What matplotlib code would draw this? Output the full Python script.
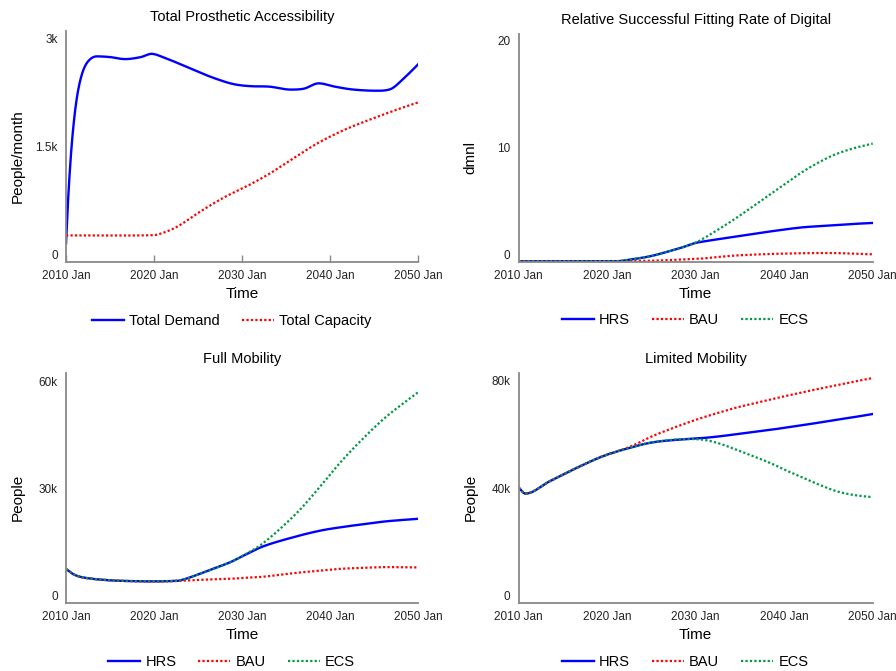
"""Scenario comparison of prosthetic service model outputs, 2010-2050."""

import matplotlib
matplotlib.use("Agg")
import matplotlib.pyplot as plt
import numpy as np

plt.rcParams["font.family"] = ["Liberation Sans", "DejaVu Sans"]

BLUE = "#0000ff"
RED = "#ff0000"
GREEN = "#009944"
DOT = (0, (1, 1))

# Total prosthetic accessibility (people/month)
demand_years = [2010, 2010.3, 2010.7, 2011.2, 2011.8, 2012.5, 2013.5, 2015, 2016.7, 2018.5,
                2019.7, 2021, 2023, 2025, 2027, 2029, 2031, 2033, 2035.5, 2037,
                2038.7, 2040.5, 2042.5, 2045.3, 2046.8, 2048.5, 2050]
total_demand = [150, 900, 1600, 2150, 2500, 2680, 2750, 2740, 2712, 2740,
                2785, 2740, 2640, 2535, 2440, 2365, 2335, 2330, 2288, 2300,
                2375, 2330, 2290, 2272, 2292, 2460, 2640]
capacity_years = [2010, 2015, 2019.5, 2020.5, 2022.6, 2025.2, 2027.9, 2030.9, 2033.2,
                  2035.5, 2038.5, 2041.5, 2044.5, 2047.6, 2050]
total_capacity = [260, 258, 262, 275, 380, 588, 785, 968, 1125, 1306, 1537, 1722,
                  1870, 2010, 2110]

# Relative successful fitting rate of digital (dmnl)
fit_years = [2010, 2015, 2020, 2021, 2022.5, 2024.8, 2026.7, 2028.6, 2029.7, 2030.5,
             2034.2, 2038, 2041.8, 2043.7, 2045.6, 2047.8, 2050]
fit_hrs = [-0.65, -0.65, -0.65, -0.65, -0.5, -0.19, 0.22, 0.68, 1.0, 1.15,
           1.62, 2.09, 2.5, 2.62, 2.73, 2.84, 2.93]
fit_bau = [-0.65, -0.65, -0.65, -0.65, -0.63, -0.6, -0.55, -0.48, -0.44, -0.41,
           -0.13, 0.02, 0.1, 0.12, 0.12, 0.06, 0.0]
fit_ecs = [-0.65, -0.65, -0.65, -0.65, -0.5, -0.19, 0.22, 0.68, 1.0, 1.3,
           3.19, 5.37, 7.56, 8.5, 9.28, 9.9, 10.35]

# Full mobility (people)
full_years = [2010, 2011, 2012.3, 2015, 2018, 2020, 2022, 2023, 2025.4, 2028.6, 2030,
              2032.4, 2036.2, 2038.9, 2041.1, 2043.8, 2046.4, 2050]
full_hrs = [7460, 5800, 4950, 4300, 4050, 4000, 4100, 4300, 6300, 9300, 11000,
            13800, 16600, 18200, 19100, 20000, 20800, 21500]
full_bau = [7460, 5800, 4950, 4300, 4050, 4000, 4050, 4150, 4450, 4700, 4950,
            5300, 6400, 7000, 7500, 7800, 8000, 7900]
full_ecs = [7460, 5800, 4950, 4300, 4050, 4000, 4100, 4300, 6300, 9300, 11100,
            14700, 23100, 30600, 37100, 44100, 50100, 56900]

# Limited mobility (people)
lim_years = [2010, 2010.75, 2013.5, 2016.5, 2019.5, 2022.5, 2025.2, 2029, 2030.9,
             2032.7, 2034.6, 2036.5, 2038.4, 2040.3, 2042.2, 2044.1, 2046, 2048, 2050]
lim_hrs = [40200, 38000, 42600, 47500, 51900, 55000, 57100, 58300, 58700,
           59300, 60100, 60900, 61700, 62600, 63500, 64500, 65500, 66500, 67600]
lim_bau = [40200, 38000, 42600, 47500, 51900, 55300, 59500, 64300, 66400,
           68200, 70000, 71500, 73000, 74400, 75800, 77100, 78400, 79700, 81000]
lim_ecs = [40200, 38000, 42600, 47500, 51900, 55000, 57100, 58300, 58000,
           56600, 54300, 51900, 49400, 46500, 43800, 41100, 38800, 37400, 36700]

xtick_years = [2010, 2020, 2030, 2040, 2050]
xtick_labels = ["2010 Jan", "2020 Jan", "2030 Jan", "2040 Jan", "2050 Jan"]


def smooth(xs, ys, n=500):
    """Shape-preserving cubic Hermite resample of the sampled points."""
    xs = np.asarray(xs, float)
    ys = np.asarray(ys, float)
    h = np.diff(xs)
    d = np.diff(ys) / h
    m = np.zeros_like(ys)
    m[0], m[-1] = d[0], d[-1]
    for i in range(1, len(xs) - 1):
        if d[i - 1] * d[i] <= 0:
            continue
        # centred slope, clipped so the curve does not overshoot
        s = (ys[i + 1] - ys[i - 1]) / (xs[i + 1] - xs[i - 1])
        lim = 3 * min(abs(d[i - 1]), abs(d[i]))
        m[i] = np.sign(s) * min(abs(s), lim)
    grid = np.linspace(xs[0], xs[-1], n)
    idx = np.clip(np.searchsorted(xs, grid) - 1, 0, len(xs) - 2)
    t = (grid - xs[idx]) / h[idx]
    h00 = 2 * t**3 - 3 * t**2 + 1
    h10 = t**3 - 2 * t**2 + t
    h01 = -2 * t**3 + 3 * t**2
    h11 = t**3 - t**2
    out = (h00 * ys[idx] + h10 * h[idx] * m[idx]
           + h01 * ys[idx + 1] + h11 * h[idx] * m[idx + 1])
    return grid, out


def style_axis(ax, ylabel, ylim, yticks, yticklabels, show_xticks=False):
    ax.set_xlim(2010, 2050)
    ax.set_ylim(*ylim)
    ax.set_yticks(yticks)
    ax.set_yticklabels(yticklabels)
    ax.set_xticks(xtick_years)
    ax.set_xticklabels(xtick_labels)
    for side in ("top", "right"):
        ax.spines[side].set_visible(False)
    for side in ("left", "bottom"):
        ax.spines[side].set_color("#888888")
        ax.spines[side].set_linewidth(1.3)
    ax.tick_params(axis="y", length=0, pad=6, labelsize=8.5, colors="#222222")
    ax.tick_params(axis="x", direction="in", length=5 if show_xticks else 0,
                   width=1, color="#888888", pad=6, labelsize=8.5,
                   labelcolor="#222222")
    ax.set_xlabel("Time", fontsize=11, labelpad=3)
    ax.set_ylabel(ylabel, fontsize=11)
    # y label sits a fixed distance left of the spine
    width_px = ax.get_position().width * ax.figure.get_figwidth() * ax.figure.dpi
    ax.yaxis.set_label_coords(-41 / width_px, 0.46)


def scenario_lines(ax, years, hrs, bau, ecs):
    ax.plot(*smooth(years, hrs), color=BLUE, linewidth=1.7, label="HRS")
    ax.plot(*smooth(years, bau), color=RED, linewidth=1.6, linestyle=DOT, label="BAU")
    ax.plot(*smooth(years, ecs), color=GREEN, linewidth=1.6, linestyle=DOT, label="ECS")


def add_legend(ax, ncol=3):
    ax.legend(loc="center", bbox_to_anchor=(0.47, -0.255), ncol=ncol, frameon=False,
              fontsize=10.5, handlelength=2.2, columnspacing=1.5, handletextpad=0.35)


fig = plt.figure(figsize=(8.96, 6.71), dpi=100)
ax_tl = fig.add_axes([0.0737, 0.6095, 0.393, 0.344])
ax_tr = fig.add_axes([0.579, 0.6095, 0.395, 0.340])
ax_bl = fig.add_axes([0.0737, 0.1013, 0.393, 0.343])
ax_br = fig.add_axes([0.579, 0.1013, 0.395, 0.343])

# Total prosthetic accessibility
ax_tl.plot(*smooth(demand_years, total_demand), color=BLUE, linewidth=1.7,
           label="Total Demand")
ax_tl.plot(*smooth(capacity_years, total_capacity), color=RED, linewidth=1.6,
           linestyle=DOT, label="Total Capacity")
style_axis(ax_tl, "People/month", (-110, 3100), [0, 1500, 3000], ["0", "1.5k", "3k"],
           show_xticks=True)
ax_tl.set_title("Total Prosthetic Accessibility", fontsize=10.5, pad=7)
add_legend(ax_tl, ncol=2)

# Relative successful fitting rate
scenario_lines(ax_tr, fit_years, fit_hrs, fit_bau, fit_ecs)
style_axis(ax_tr, "dmnl", (-0.72, 20.6), [0, 10, 20], ["0", "10", "20"])
ax_tr.set_title("Relative Successful Fitting Rate of Digital", fontsize=10.5, pad=7)
add_legend(ax_tr)

# Full mobility
scenario_lines(ax_bl, full_years, full_hrs, full_bau, full_ecs)
style_axis(ax_bl, "People", (-2050, 62300), [0, 30000, 60000], ["0", "30k", "60k"])
ax_bl.set_title("Full Mobility", fontsize=10.5, pad=7)
add_legend(ax_bl)

# Limited mobility
scenario_lines(ax_br, lim_years, lim_hrs, lim_bau, lim_ecs)
style_axis(ax_br, "People", (-2700, 82900), [0, 40000, 80000], ["0", "40k", "80k"])
ax_br.set_title("Limited Mobility", fontsize=10.5, pad=7)
add_legend(ax_br)

fig.savefig("out.png", dpi=100)
plt.close(fig)
